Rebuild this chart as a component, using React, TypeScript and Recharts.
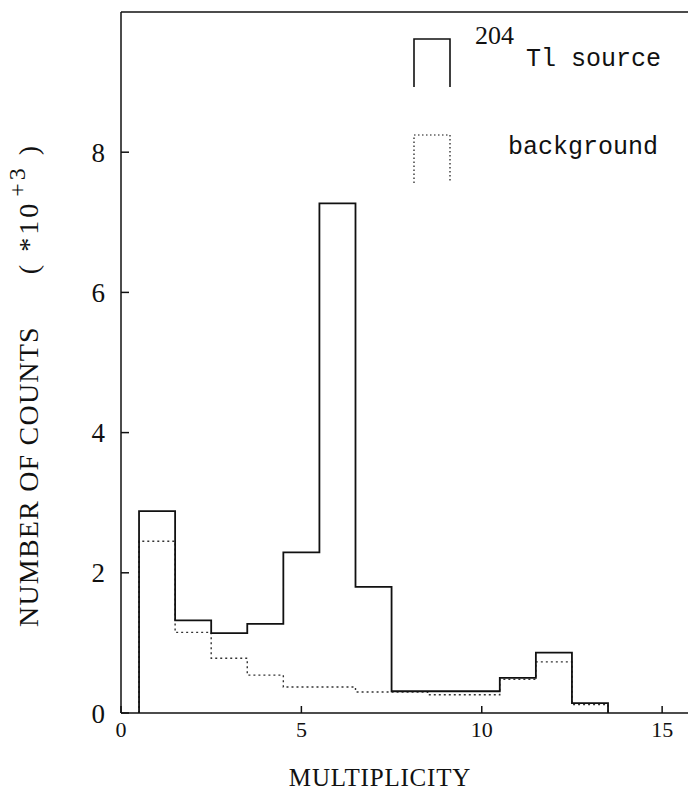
import React from 'react';
import { ComposedChart, Line, XAxis, YAxis, Legend, Label } from 'recharts';

// multiplicity bins (bin centres) and counts in units of 10^3
const bins = [1, 2, 3, 4, 5, 6, 7, 8, 9, 10, 11, 12, 13];
const sourceCounts = [2.88, 1.32, 1.14, 1.27, 2.29, 7.27, 1.8, 0.31, 0.31, 0.31, 0.5, 0.86, 0.14];
const backgroundCounts = [2.45, 1.15, 0.78, 0.54, 0.37, 0.37, 0.3, 0.3, 0.26, 0.26, 0.48, 0.73, 0.12];

const xTicks = [0, 5, 10, 15];
const yTicks = [0, 2, 4, 6, 8];

// histogram outline: one point per left bin edge, closed at both ends
const binWidth = 1;
const data = [
  { x: bins[0] - binWidth / 2, src: 0, bg: 0 },
  ...bins.map((b, i) => ({ x: b - binWidth / 2, src: sourceCounts[i], bg: backgroundCounts[i] })),
  { x: bins[bins.length - 1] + binWidth / 2, src: 0, bg: 0 },
];

const ink = '#111';
const mono = '"Liberation Mono", "DejaVu Sans Mono", monospace';
const serif = '"Liberation Serif", "DejaVu Serif", serif';

function HistLegend(props: any) {
  const { payload = [] } = props;
  return (
    <svg width={700} height={200} style={{ display: 'block' }}>
      {payload.map((entry: any, i: number) => {
        const top = 39 + i * 96;
        const dotted = entry.dataKey === 'bg';
        return (
          <g key={entry.dataKey}>
            <path
              d={`M414,${top + 48} V${top} H450 V${top + 48}`}
              fill="none"
              stroke={ink}
              strokeWidth={dotted ? 1.2 : 1.6}
              strokeDasharray={dotted ? '1.5 2.5' : undefined}
            />
            {dotted ? (
              <text x={508} y={top + 19} fontFamily={mono} fontSize={25} fill={ink}>
                {entry.value}
              </text>
            ) : (
              <text x={475} y={top + 27} fontFamily={mono} fontSize={25} fill={ink}>
                <tspan fontFamily={serif} fontSize={26} dy={-22}>204</tspan>
                <tspan x={526} dy={22}>{entry.value}</tspan>
              </text>
            )}
          </g>
        );
      })}
    </svg>
  );
}

function YTitle(props: any) {
  const { viewBox } = props;
  const x = viewBox.x + 38;
  const y = viewBox.y + viewBox.height - 86;
  return (
    <text
      x={x}
      y={y}
      transform={`rotate(-90, ${x}, ${y})`}
      fontFamily={serif}
      fontSize={28}
      letterSpacing={1.2}
      fill={ink}
    >
      NUMBER OF COUNTS
      <tspan dx={52} letterSpacing={3}>( *10</tspan>
      <tspan dy={-13} fontSize={24} dx={4} letterSpacing={3}>+3</tspan>
      <tspan dy={13} dx={10}>)</tspan>
    </text>
  );
}

function XTitle(props: any) {
  const { viewBox } = props;
  return (
    <text
      x={viewBox.x + viewBox.width / 2 - 26}
      y={786}
      textAnchor="middle"
      fontFamily={serif}
      fontSize={25}
      letterSpacing={0.8}
      fill={ink}
    >
      MULTIPLICITY
    </text>
  );
}

export default function App() {
  const axisLine = { stroke: ink, strokeWidth: 1.5 };
  const tickLine = { stroke: ink, strokeWidth: 1.5 };

  return (
    <div
      style={{
        position: 'absolute',
        left: 0,
        top: 0,
        width: 688,
        height: 791,
        overflow: 'hidden',
        background: '#fff',
      }}
    >
      <ComposedChart width={700} height={791} data={data} margin={{ top: 2, right: 0, bottom: 0, left: 0 }}>
        <XAxis
          xAxisId="b"
          type="number"
          dataKey="x"
          domain={[0, 15.8]}
          ticks={xTicks}
          allowDataOverflow
          height={78}
          tickSize={-7}
          tickMargin={15}
          axisLine={axisLine}
          tickLine={tickLine}
          tick={{ fontFamily: serif, fontSize: 22, fill: ink }}
        >
          <Label content={XTitle} />
        </XAxis>
        <XAxis
          xAxisId="t"
          orientation="top"
          type="number"
          dataKey="x"
          domain={[0, 15.8]}
          ticks={xTicks}
          allowDataOverflow
          height={10}
          tickSize={-7}
          axisLine={axisLine}
          tickLine={tickLine}
          tick={false}
        />
        <YAxis
          yAxisId="l"
          type="number"
          domain={[0, 10]}
          ticks={yTicks}
          allowDataOverflow
          width={121}
          tickSize={-8}
          tickMargin={24}
          axisLine={axisLine}
          tickLine={tickLine}
          tick={{ fontFamily: serif, fontSize: 27, fill: ink }}
        >
          <Label content={YTitle} />
        </YAxis>
        <YAxis
          yAxisId="r"
          orientation="right"
          type="number"
          domain={[0, 10]}
          ticks={yTicks}
          allowDataOverflow
          width={9}
          tickSize={-7}
          axisLine={axisLine}
          tickLine={tickLine}
          tick={false}
        />
        <Line
          xAxisId="b"
          yAxisId="l"
          type="stepAfter"
          dataKey="bg"
          name="background"
          stroke="#333"
          strokeWidth={1.4}
          strokeDasharray="2 3"
          dot={false}
          activeDot={false}
          isAnimationActive={false}
        />
        <Line
          xAxisId="b"
          yAxisId="l"
          type="stepAfter"
          dataKey="src"
          name="Tl source"
          stroke={ink}
          strokeWidth={1.8}
          dot={false}
          activeDot={false}
          isAnimationActive={false}
        />
        <Legend
          layout="horizontal"
          verticalAlign="middle"
          align="center"
          content={HistLegend}
          wrapperStyle={{ position: 'absolute', left: 0, top: 0, width: 700, height: 200 }}
        />
      </ComposedChart>
    </div>
  );
}
